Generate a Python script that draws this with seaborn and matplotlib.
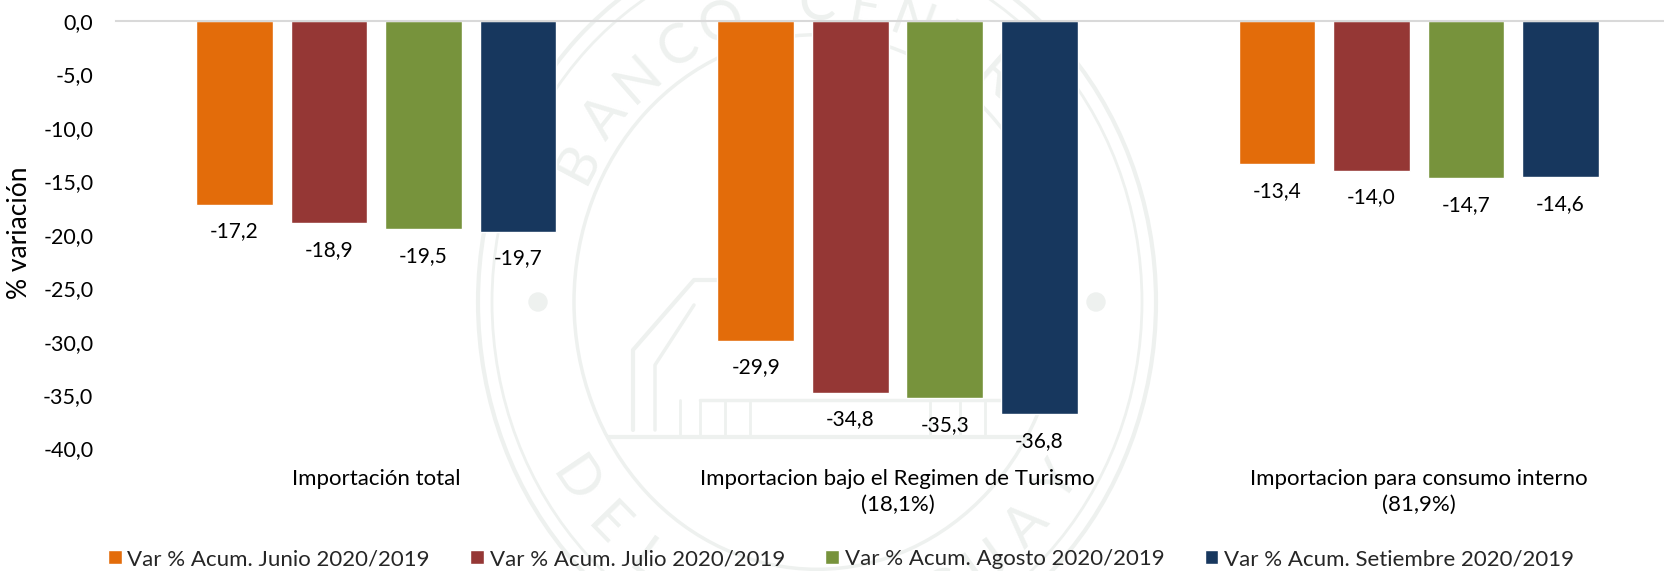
import numpy as np
import pandas as pd
import matplotlib
matplotlib.use("Agg")
import matplotlib.pyplot as plt
from matplotlib.patches import Circle, Ellipse
import seaborn as sns

categorias = ["Importación total",
              "Importacion bajo el Regimen de Turismo\n(18,1%)",
              "Importacion para consumo interno\n(81,9%)"]
series = ["Var % Acum. Junio 2020/2019", "Var % Acum. Julio 2020/2019",
          "Var % Acum. Agosto 2020/2019", "Var % Acum. Setiembre 2020/2019"]
junio = [-17.2, -29.9, -13.4]
julio = [-18.9, -34.8, -14.0]
agosto = [-19.5, -35.3, -14.7]
setiembre = [-19.7, -36.8, -14.6]
colores = ["#E36C0A", "#953735", "#77933C", "#17375E"]
y_ticks = [0, -5, -10, -15, -20, -25, -30, -35, -40]

W, H = 1665, 571
MARCA = "#eef1ef"

sns.set_theme(style="white")
plt.rcParams["font.family"] = ["Lato", "DejaVu Sans"]

df = pd.DataFrame({"categoria": categorias * 4,
                   "serie": np.repeat(series, 3),
                   "valor": junio + julio + agosto + setiembre})

fig = plt.figure(figsize=(W / 100, H / 100), dpi=100, facecolor="white")


def seal(bg):
    # Faint seal of the bank behind the chart, in pixel coordinates
    cx, cy = 817, 302
    for rx, lw in [(339, 3), (325, 2), (243, 2.5)]:
        bg.add_patch(Ellipse((cx, cy), 2 * rx, 2.2 * rx, fill=False, ec=MARCA, lw=lw))
    for x in [538, 1096]:
        bg.add_patch(Circle((x, cy), 9, color=MARCA))
    for txt, a0, a1, rx in [("BANCO CENTRAL", 152, 28, 270), ("DEL PARAGUAY", 214, 326, 292)]:
        for ch, a in zip(txt, np.linspace(a0, a1, len(txt))):
            rad = np.radians(a)
            rot = a - 90 if a < 180 else a + 90
            bg.text(cx + rx * np.cos(rad), cy - 1.1 * rx * np.sin(rad), ch, color=MARCA,
                    fontsize=40, rotation=rot, ha="center", va="center")
    # building
    bg.plot([608, 1030], [437, 437], color=MARCA, lw=3)
    bg.plot([633, 633, 694, 725], [430, 350, 280, 280], color=MARCA, lw=3)
    bg.plot([655, 655, 694], [430, 365, 305], color=MARCA, lw=2.5)
    bg.plot([700, 1000], [400, 400], color=MARCA, lw=2.5)
    for x in [680, 700, 725, 750, 930, 960, 985]:
        bg.plot([x, x], [400, 437], color=MARCA, lw=2)


bg = fig.add_axes([0, 0, 1, 1], zorder=0)
bg.set_xlim(0, W)
bg.set_ylim(H, 0)
bg.axis("off")
seal(bg)

ax = fig.add_axes([115.5 / W, 1 - 448.5 / H, 1564 / W, 427.5 / H], zorder=1)
ax.patch.set_alpha(0)

sns.barplot(data=df, x="categoria", y="valor", hue="serie", palette=colores,
            saturation=1, width=0.725, gap=0.19, errorbar=None, ax=ax)

for cont in ax.containers:
    ax.bar_label(cont, fmt=lambda v: f"{v:.1f}".replace(".", ","), padding=12,
                 fontsize=15, color="black")

ax.set_ylim(-40, 0)
ax.set_xlim(-0.5, 2.5)
ax.set_yticks(y_ticks)
ax.set_yticklabels([f"{v:.1f}".replace(".", ",") for v in y_ticks])
ax.tick_params(axis="y", length=0, pad=16, labelsize=15.5, labelcolor="black")
ax.tick_params(axis="x", length=0, pad=14.5, labelsize=16, labelcolor="black")
for label in ax.get_xticklabels():
    label.set_linespacing(1.41)
ax.set_xlabel("")
ax.set_ylabel("")
fig.text(20 / W, 1 - 233 / H, "% variación", rotation=90, fontsize=19,
         ha="center", va="center", color="black")

for side in ["left", "right", "bottom"]:
    ax.spines[side].set_visible(False)
ax.spines["top"].set_color("#d9d9d9")
ax.spines["top"].set_linewidth(1.5)

handles, labels = ax.get_legend_handles_labels()
ax.legend(handles, labels, ncol=4, frameon=False, fontsize=16, handlelength=0.62,
          handleheight=0.62, handletextpad=0.25, columnspacing=1.82, borderpad=0,
          borderaxespad=0, loc="center left",
          bbox_to_anchor=(108 / W, 1 - 559 / H), bbox_transform=fig.transFigure)

fig.savefig("out.png", dpi=100)
